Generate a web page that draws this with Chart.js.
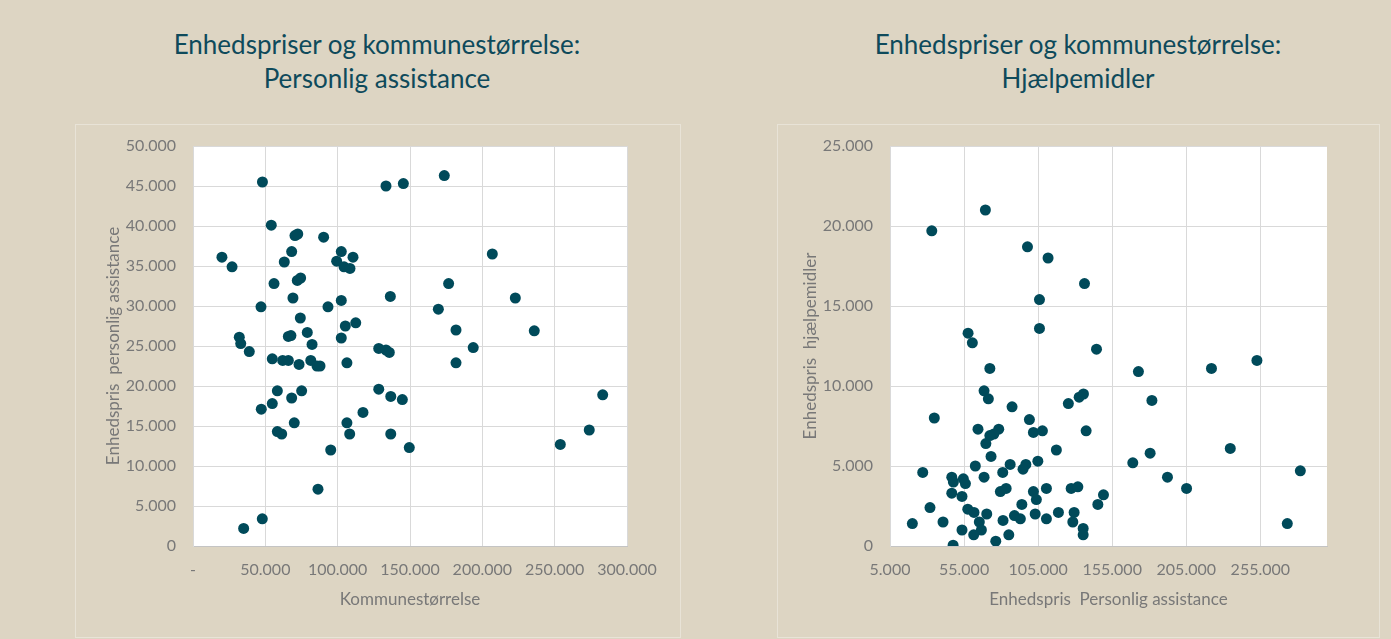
<!DOCTYPE html>
<html>
<head>
<meta charset="utf-8">
<script src="https://cdn.jsdelivr.net/npm/chart.js@4"></script>
<style>
  html, body { margin: 0; padding: 0; background: #ddd5c3; width: 1391px; height: 639px; overflow: hidden; font-family: Lato, sans-serif; }
  .panel { position: absolute; border: 1px solid #e8e3d7; }
  .title { position: absolute; text-align: center; color: #0e4a5b; font-size: 26px; line-height: 34px; }
  canvas { position: absolute; top: 0; }
</style>
</head>
<body>
<div class="panel" style="left:75px;top:124px;width:604px;height:512px"></div>
<div class="panel" style="left:777px;top:124px;width:601px;height:512px"></div>
<div class="title" style="left:77px;width:600px;top:27px">Enhedspriser og kommunestørrelse:<br>Personlig assistance</div>
<div class="title" style="left:778px;width:600px;top:27px">Enhedspriser og kommunestørrelse:<br>Hjælpemidler</div>
<canvas id="left" width="695" height="639" style="left:0"></canvas>
<canvas id="right" width="696" height="639" style="left:695px"></canvas>
<script>
// Personlig assistance: kommunestørrelse (x) mod enhedspris (y)
var leftX = [48000, 133400, 145400, 54100, 70500, 72400, 90300, 68200, 102500, 20000,
  110600, 27000, 63100, 99300, 104400, 108500, 56000, 72100, 74400, 136400,
  69100, 47000, 93300, 102500, 74200, 105300, 112500, 79000, 65900, 67700,
  102500, 32000, 33000, 82300, 38900, 128400, 133400, 135700, 54800, 62000,
  65900, 73300, 81400, 85700, 87800, 106400, 58300, 75100, 68200, 54800,
  47200, 58300, 61300, 70000, 106400, 108300, 117500, 95200, 86400, 47900,
  35000, 128400, 136700, 144700, 136700, 149500, 173700, 206900, 176700, 222800,
  169600, 181800, 235900, 193700, 181800, 283200, 273900, 253900];
var leftY = [45500, 45000, 45300, 40100, 38800, 39000, 38600, 36800, 36800, 36100,
  36100, 34900, 35500, 35600, 34900, 34700, 32800, 33200, 33500, 31200,
  31000, 29900, 29900, 30700, 28500, 27500, 27900, 26700, 26200, 26300,
  26000, 26100, 25300, 25200, 24300, 24700, 24500, 24200, 23400, 23200,
  23200, 22700, 23200, 22500, 22500, 22900, 19400, 19400, 18500, 17800,
  17100, 14300, 14000, 15400, 15400, 14000, 16700, 12000, 7100, 3400,
  2200, 19600, 18700, 18300, 14000, 12300, 46300, 36500, 32800, 31000,
  29600, 27000, 26900, 24800, 22900, 18900, 14500, 12700];

// Hjælpemidler: enhedspris personlig assistance (x) mod enhedspris hjælpemidler (y)
var rightX = [33200, 69400, 97800, 111700, 105900, 57700, 60600, 105900, 136300, 72400,
  68500, 71400, 87400, 34900, 99100, 64400, 78400, 75100, 72400, 101800,
  107900, 69700, 73200, 117300, 125400, 132700, 135600, 62600, 86100, 96700,
  94800, 104800, 27100, 46700, 47800, 54500, 55900, 68500, 81100, 79500,
  83400, 101800, 110600, 46700, 53600, 103800, 94000, 32000, 57500, 61700,
  70300, 89000, 93000, 103000, 118700, 81300, 110600, 20100, 40800, 65300,
  66700, 53600, 61500, 85200, 76400, 47600, 127300, 131800, 129300, 128400,
  135400, 135400, 144400, 172700, 222000, 252700, 181800, 137400, 168900, 180600,
  234700, 192300, 205200, 282000, 149100, 145300, 273200];
var rightY = [19700, 21000, 18700, 18000, 15400, 13300, 12700, 13600, 16400, 11100,
  9700, 9200, 8700, 8000, 7900, 7300, 7300, 7000, 6900, 7100,
  7200, 6400, 5600, 6000, 8900, 9300, 9500, 5000, 5100, 5100,
  4800, 5300, 4600, 4300, 4000, 4200, 3900, 4300, 4600, 3400,
  3600, 3400, 3600, 3300, 3100, 2900, 2600, 2400, 2300, 2100,
  2000, 1900, 1700, 2000, 2100, 1600, 1700, 1400, 1500, 1500,
  1000, 1000, 700, 700, 300, 50, 3600, 3700, 2100, 1500,
  1100, 700, 12300, 10900, 11100, 11600, 9100, 7200, 5200, 5800,
  6100, 4300, 3600, 4700, 3200, 2600, 1400];

var rightXTicks = [5000, 55000, 105000, 155000, 205000, 255000];

function fmt(v) {
  return String(v).replace(/\B(?=(\d{3})+(?!\d))/g, '.');
}

var plotBg = {
  id: 'plotBg',
  beforeDraw: function(chart) {
    var a = chart.chartArea, ctx = chart.ctx;
    ctx.save();
    ctx.fillStyle = '#ffffff';
    ctx.fillRect(a.left, a.top, a.right - a.left, a.bottom - a.top);
    ctx.restore();
  }
};

function makeChart(id, xs, ys, cfg) {
  var pts = xs.map(function(x, i) { return { x: x, y: ys[i] }; });
  return new Chart(document.getElementById(id), {
    type: 'scatter',
    data: {
      datasets: [{
        data: pts,
        backgroundColor: '#004a5a',
        borderWidth: 0,
        pointRadius: 5.5,
        pointHoverRadius: 5.5
      }]
    },
    options: {
      responsive: false,
      animation: false,
      layout: { padding: { left: cfg.padLeft, top: 146, right: cfg.padRight, bottom: 0 } },
      plugins: { legend: { display: false }, tooltip: { enabled: false } },
      scales: {
        x: {
          type: 'linear',
          min: cfg.xMin,
          max: cfg.xMax,
          afterFit: function(s) { s.height = 93; },
          afterBuildTicks: cfg.xTicks ? function(s) {
            s.ticks = cfg.xTicks.map(function(v) { return { value: v }; });
          } : undefined,
          ticks: {
            stepSize: 50000,
            autoSkip: false,
            maxRotation: 0,
            padding: 14,
            color: '#787878',
            font: { family: 'Lato', size: 16 },
            callback: function(v) { return v === 0 ? '-' : fmt(v); }
          },
          grid: { color: '#d9d9d9', drawTicks: false, lineWidth: 1 },
          border: { color: '#c4c4c4', width: 1 },
          title: {
            display: true,
            text: cfg.xTitle,
            color: '#787878',
            font: { family: 'Lato', size: 17 },
            padding: { top: 0, bottom: 29 }
          }
        },
        y: {
          min: 0,
          max: cfg.yMax,
          afterFit: function(s) { s.width = cfg.yWidth; },
          ticks: {
            stepSize: 5000,
            padding: 17,
            color: '#787878',
            font: { family: 'Lato', size: 16 },
            callback: function(v) { return fmt(v); }
          },
          grid: { color: '#d9d9d9', drawTicks: false, lineWidth: 1 },
          border: { color: '#d9d9d9', width: 1 },
          title: {
            display: true,
            text: cfg.yTitle,
            color: '#787878',
            font: { family: 'Lato', size: 17 },
            padding: { top: cfg.yTitlePad, bottom: 0 }
          }
        }
      }
    },
    plugins: [plotBg]
  });
}

makeChart('left', leftX, leftY, {
  padLeft: 75, padRight: 68, yWidth: 118, yTitlePad: 28,
  xMin: 0, xMax: 300000, yMax: 50000,
  xTitle: 'Kommunestørrelse',
  yTitle: 'Enhedspris  personlig assistance'
});

makeChart('right', rightX, rightY, {
  padLeft: 82, padRight: 64, yWidth: 113, yTitlePad: 23,
  xMin: 5000, xMax: 300000, yMax: 25000, xTicks: rightXTicks,
  xTitle: 'Enhedspris  Personlig assistance',
  yTitle: 'Enhedspris  hjælpemidler'
});
</script>
</body>
</html>
